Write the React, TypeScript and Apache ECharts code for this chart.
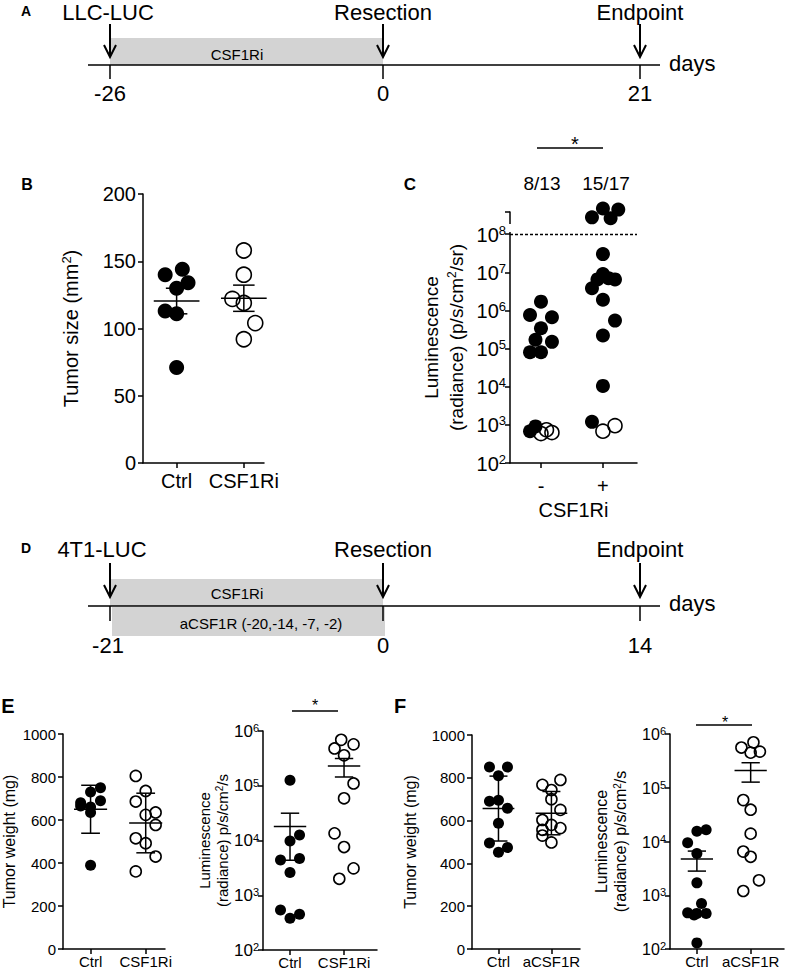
import React, { useEffect, useRef } from 'react';
import * as echarts from 'echarts';

const FONT = "'Liberation Sans', Arial, Helvetica, sans-serif";
const BLACK = '#000';

// ---------------- Timelines (A, D) ----------------
const timelineAEvents = ['LLC-LUC', 'Resection', 'Endpoint'];
const timelineADays = ['-26', '0', '21'];
const timelineATreatments = ['CSF1Ri'];
const timelineDEvents = ['4T1-LUC', 'Resection', 'Endpoint'];
const timelineDDays = ['-21', '0', '14'];
const timelineDTreatments = ['CSF1Ri', 'aCSF1R (-20,-14, -7, -2)'];
const timelineUnit = 'days';

// ---------------- Panel B: tumor size (mm2) ----------------
const bCategories = ['Ctrl', 'CSF1Ri'];
const bCtrlValues = [140, 144, 134, 130, 113, 111, 71];
const bCtrlColumns = [-1, 0.5, 1, 0, -1, 0, 0];
const bCsfValues = [158, 140, 122, 119, 104, 92];
const bCsfColumns = [0, 0, -1, 0, 1, 0];

// ---------------- Panel C: luminescence ----------------
const cCategories = ['-', '+'];
const cCounts = ['8/13', '15/17'];
const cThreshold = 1e8;
const cMinusFilled = [1.7e6, 7.6e5, 6.6e5, 3.4e5, 1.7e5, 1.5e5, 8e4, 8e4, 910, 680];
const cMinusFilledColumns = [0, -1, 1, 0, -0.5, 1, -1, 0, -0.5, -1];
const cMinusOpen = [590, 740, 630];
const cMinusOpenColumns = [0, 0.5, 1];
const cPlusFilled = [2.75e8, 4.7e8, 2.6e8, 4.4e8, 3e7, 3.8e6, 6.5e6, 9e6, 7e6, 6.5e6, 1.9e6, 5.4e5, 2.2e5, 1.05e4, 1.2e3];
const cPlusFilledColumns = [-1, 0, 0.7, 1.4, 0, -1, -0.5, 0, 0.5, 1.1, 0, 1.1, 0, 0, -1];
const cPlusOpen = [680, 950];
const cPlusOpenColumns = [0, 1.1];

// ---------------- Panel E ----------------
const eCategories = ['Ctrl', 'CSF1Ri'];
const eWeightCtrl = [750, 730, 690, 680, 665, 660, 635, 390];
const eWeightCtrlColumns = [1, 0, 1, -1, -1, 0, 0, 0];
const eWeightCsf = [805, 735, 686, 635, 624, 577, 515, 492, 430, 361];
const eWeightCsfColumns = [-1, 0, -1, 1, 0, 1, -1, 0, 1, -1];
const eLumCtrl = [1.26e5, 1.26e4, 9.8e3, 4.4e3, 4.7e3, 2.6e3, 540, 450, 380];
const eLumCtrlColumns = [0, 1, 0, -1, 1, 0, -1, 1, 0];
const eLumCsf = [6.9e5, 5.7e5, 4.8e5, 3.6e5, 1.1e5, 5.9e4, 1.35e4, 7.6e3, 3.1e3, 2.0e3];
const eLumCsfColumns = [-0.3, 1, -1, 0, 1, 0, -1, 0, 1, -0.5];

// ---------------- Panel F ----------------
const fCategories = ['Ctrl', 'aCSF1R'];
const fWeightCtrl = [850, 850, 810, 690, 695, 658, 588, 495, 474, 452];
const fWeightCtrlColumns = [-1, 1, 0, -1, 0, 1, 0, -1, 1, 0];
const fWeightAcsf = [790, 767, 743, 700, 650, 603, 580, 565, 557, 530, 498];
const fWeightAcsfColumns = [1, -1, 0, 0, 1, -1, 0, 1, -1, -1, 0];
const fLumCtrl = [1.55e4, 1.66e4, 9.5e3, 6e3, 1.7e3, 700, 470, 460, 460, 430, 130];
const fLumCtrlColumns = [0, 1, -1, 0, 0, 0.5, -1, 0, 1, -0.3, 0];
const fLumAcsf = [5.6e5, 7e5, 4.7e5, 4.5e5, 5.9e4, 3.9e4, 1.4e4, 6.5e3, 5.2e3, 1.9e3, 1.2e3];
const fLumAcsfColumns = [-1, 0.3, 1, 0, -0.8, 0, 0, -0.8, 0, 0.9, -0.8];

// ---------------- helpers ----------------
const mean = (a: number[]) => a.reduce((s, v) => s + v, 0) / a.length;
const sd = (a: number[]) => {
  const m = mean(a);
  return Math.sqrt(a.reduce((s, v) => s + (v - m) * (v - m), 0) / (a.length - 1));
};
const sem = (a: number[]) => sd(a) / Math.sqrt(a.length);

function dots(grid: number, values: number[], cols: number[], cat: number, jitter: number, log: boolean, open: boolean, size: number) {
  return {
    type: 'scatter',
    xAxisIndex: grid,
    yAxisIndex: grid,
    clip: false,
    silent: true,
    symbol: 'circle',
    symbolSize: size,
    z: 3,
    itemStyle: open
      ? { color: 'rgba(255,255,255,0)', borderColor: BLACK, borderWidth: 1.6, opacity: 1 }
      : { color: BLACK, borderWidth: 0, opacity: 1 },
    data: values.map((v, i) => [cat + cols[i] * jitter, log ? Math.log10(v) : v]),
  };
}

function summary(grid: number, groups: number[][], kind: 'sd' | 'sem', log: boolean, meanHalf: number, capHalf: number) {
  const t = (v: number) => (log ? Math.log10(v) : v);
  const data = groups.map((g, i) => {
    const m = mean(g);
    const e = kind === 'sd' ? sd(g) : sem(g);
    return [i + 1, t(m), t(m - e), t(m + e)];
  });
  return {
    type: 'custom',
    xAxisIndex: grid,
    yAxisIndex: grid,
    silent: true,
    clip: false,
    z: 4,
    data,
    renderItem: (params: any, api: any) => {
      const x = api.value(0);
      const m = api.value(1);
      const lo = api.value(2);
      const hi = api.value(3);
      const c = (p: number[]) => api.coord(p);
      const L = (a: number[], b: number[]) => ({
        type: 'line',
        shape: { x1: a[0], y1: a[1], x2: b[0], y2: b[1] },
        style: { stroke: BLACK, lineWidth: 1.5 },
      });
      return {
        type: 'group',
        children: [
          L(c([x - meanHalf, m]), c([x + meanHalf, m])),
          L(c([x, lo]), c([x, hi])),
          L(c([x - capHalf, lo]), c([x + capHalf, lo])),
          L(c([x - capHalf, hi]), c([x + capHalf, hi])),
        ],
      };
    },
  };
}

const axisLineStyle = { color: BLACK, width: 1.5 };

function xAxisFor(gridIndex: number, max: number, cats: string[], fontSize: number, margin: number, name?: string, nameGap?: number) {
  return {
    type: 'value',
    gridIndex,
    min: 0.5,
    max,
    axisLine: { show: true, onZero: false, lineStyle: axisLineStyle },
    axisTick: { show: true, customValues: [1, 2], length: 5, lineStyle: axisLineStyle },
    axisLabel: {
      show: true,
      customValues: [1, 2],
      formatter: (v: number) => cats[Math.round(v) - 1] ?? '',
      color: BLACK,
      fontFamily: FONT,
      fontSize,
      margin,
    },
    splitLine: { show: false },
    name: name ?? '',
    nameLocation: 'middle',
    nameGap: nameGap ?? 0,
    nameTextStyle: { color: BLACK, fontFamily: FONT, fontSize },
  };
}

function richSet(fontSize: number, supSize: number, supPad: number, lineHeight?: number) {
  return {
    t: { fontSize, fontFamily: FONT, color: BLACK, verticalAlign: 'bottom', lineHeight },
    b: { fontSize, fontFamily: FONT, color: BLACK, verticalAlign: 'bottom' },
    s: { fontSize: supSize, fontFamily: FONT, color: BLACK, verticalAlign: 'bottom', padding: [0, 0, supPad, 0] },
  };
}

function yLinear(gridIndex: number, max: number, interval: number, fontSize: number, name: string, nameGap: number, nameSize: number) {
  return {
    type: 'value',
    gridIndex,
    min: 0,
    max,
    interval,
    axisLine: { show: true, lineStyle: axisLineStyle },
    axisTick: { show: true, length: 5, lineStyle: axisLineStyle },
    axisLabel: { color: BLACK, fontFamily: FONT, fontSize, margin: 7, formatter: (v: number) => String(v) },
    splitLine: { show: false },
    name,
    nameLocation: 'middle',
    nameGap,
    nameTextStyle: { color: BLACK, fontFamily: FONT, fontSize: nameSize, rich: richSet(nameSize, 13, 8) },
  };
}

const expLabel = (v: number) => {
  const r = Math.round(v);
  if (Math.abs(v - r) > 1e-6) return '';
  return `{b|10}{s|${r}}`;
};

function yLog(gridIndex: number, minExp: number, maxExp: number, fontSize: number, supSize: number, supPad: number, name: string, nameGap: number, nameSize: number, nameLine: number) {
  return {
    type: 'value',
    gridIndex,
    min: minExp,
    max: maxExp,
    interval: 1,
    axisLine: { show: true, lineStyle: axisLineStyle },
    axisTick: { show: true, length: 5, lineStyle: axisLineStyle },
    axisLabel: {
      formatter: expLabel,
      margin: 4,
      color: BLACK,
      fontFamily: FONT,
      fontSize,
      rich: richSet(fontSize, supSize, supPad),
    },
    splitLine: { show: false },
    name,
    nameLocation: 'middle',
    nameGap,
    nameTextStyle: { color: BLACK, fontFamily: FONT, fontSize: nameSize, rich: richSet(nameSize, Math.round(nameSize * 0.65), Math.round(nameSize * 0.4), nameLine) },
  };
}

// ---------------- graphic helpers ----------------
const gLine = (x1: number, y1: number, x2: number, y2: number, w = 1.5, z = 10) => ({
  type: 'line',
  z,
  shape: { x1, y1, x2, y2 },
  style: { stroke: BLACK, lineWidth: w },
});
const gText = (text: string, x: number, y: number, fontSize: number, align = 'center', weight = 'normal') => ({
  type: 'text',
  x,
  y,
  z: 10,
  style: {
    text,
    fill: BLACK,
    fontSize,
    fontFamily: FONT,
    fontWeight: weight,
    align,
    textAlign: align,
    verticalAlign: 'middle',
    textVerticalAlign: 'middle',
  },
});
const gArrow = (x: number, y1: number, y2: number) => [
  gLine(x, y1, x, y2, 2),
  {
    type: 'polyline',
    z: 10,
    shape: { points: [[x - 6, y2 - 12], [x, y2], [x + 6, y2 - 12]] },
    style: { stroke: BLACK, lineWidth: 2, fill: 'none' },
  },
];

const TL_X = [110, 383, 640];

function timelineA() {
  const els: any[] = [];
  els.push({ type: 'rect', z: 5, shape: { x: TL_X[0], y: 38, width: TL_X[1] - TL_X[0], height: 27 }, style: { fill: '#d3d3d3' } });
  els.push(gText(timelineATreatments[0], 237, 54, 15));
  els.push(gLine(88, 65, 660, 65));
  TL_X.forEach((x, i) => {
    els.push(gText(timelineAEvents[i], i === 0 ? 108 : x, 12, 22));
    els.push(...gArrow(x, 24, 57));
    els.push(gLine(x, 65, x, 79));
    els.push(gText(timelineADays[i], x, 93, 22));
  });
  els.push(gText(timelineUnit, 669, 63, 22, 'left'));
  els.push(gText('A', 26, 11, 14, 'center', 'bold'));
  return els;
}

function timelineD() {
  const els: any[] = [];
  els.push({ type: 'rect', z: 5, shape: { x: TL_X[0], y: 579, width: TL_X[1] - TL_X[0], height: 27 }, style: { fill: '#d3d3d3' } });
  els.push({ type: 'rect', z: 5, shape: { x: TL_X[0] + 2, y: 607, width: TL_X[1] - TL_X[0], height: 29 }, style: { fill: '#d3d3d3' } });
  els.push(gText(timelineDTreatments[0], 237, 593, 15));
  els.push(gText(timelineDTreatments[1], 261, 623, 15));
  els.push(gLine(88, 606, 660, 606));
  TL_X.forEach((x, i) => {
    els.push(gText(timelineDEvents[i], i === 0 ? 102 : x, 549, 22));
    els.push(...gArrow(x, 563, 597));
    els.push(gLine(x, 606, x, 621));
    els.push(gText(timelineDDays[i], x - (i === 0 ? 2 : 0), 645, 22));
  });
  els.push(gText(timelineUnit, 669, 603, 22, 'left'));
  els.push(gText('D', 26, 548, 14, 'center', 'bold'));
  return els;
}

function buildOption() {
  const grids = [
    { left: 143, top: 194, width: 121, height: 269 }, // B
    { left: 510, top: 212, width: 127, height: 251 }, // C
    { left: 63, top: 734, width: 102, height: 215 }, // E weight
    { left: 263, top: 731, width: 114, height: 219 }, // E lum
    { left: 472, top: 735, width: 108, height: 214 }, // F weight
    { left: 670, top: 734, width: 114, height: 215 }, // F lum
  ];
  const cTopExp = 8.58;

  const xAxes = [
    xAxisFor(0, 2.3, bCategories, 20, 8),
    xAxisFor(1, 2.55, cCategories, 20, 13, 'CSF1Ri', 37),
    xAxisFor(2, 2.35, eCategories, 15, 5),
    xAxisFor(3, 2.61, eCategories, 15, 5),
    xAxisFor(4, 2.54, fCategories, 15, 5),
    xAxisFor(5, 2.62, fCategories, 15, 5),
  ];
  const yAxes = [
    yLinear(0, 200, 50, 20, '{t|Tumor size (mm}{s|2}{t|)}', 62, 20),
    yLog(1, 2, cTopExp, 20, 13, 8, '{t|Luminescence}\n{t|(radiance) (p/s/cm}{s|2}{t|/sr)}', 44, 19, 25),
    yLinear(2, 1000, 200, 15, '{t|Tumor weight (mg)}', 46, 16),
    yLog(3, 2, 6, 17, 11, 6, '{t|Luminescence}\n{t|(radiance) p/s/cm}{s|2}{t|/s}', 33, 15, 18),
    yLinear(4, 1000, 200, 15, '{t|Tumor weight (mg)}', 54, 16),
    yLog(5, 2, 6, 16, 11, 6, '{t|Luminescence}\n{t|(radiance) p/s/cm}{s|2}{t|/s}', 42, 16, 19),
  ];

  const series: any[] = [
    // B
    dots(0, bCtrlValues, bCtrlColumns, 1, 0.17, false, false, 15),
    dots(0, bCsfValues, bCsfColumns, 2, 0.17, false, true, 15),
    summary(0, [bCtrlValues, bCsfValues], 'sem', false, 0.34, 0.16),
    // C
    dots(1, cMinusFilled, cMinusFilledColumns, 1, 0.177, true, false, 14),
    dots(1, cMinusOpen, cMinusOpenColumns, 1, 0.177, true, true, 14),
    dots(1, cPlusFilled, cPlusFilledColumns, 2, 0.177, true, false, 14),
    dots(1, cPlusOpen, cPlusOpenColumns, 2, 0.177, true, true, 14),
    {
      type: 'line',
      xAxisIndex: 1,
      yAxisIndex: 1,
      data: [],
      silent: true,
      markLine: {
        silent: true,
        symbol: ['none', 'none'],
        label: { show: false },
        lineStyle: { color: BLACK, type: [3, 2], width: 1.3 },
        data: [{ yAxis: Math.log10(cThreshold) }],
      },
    },
    // E
    dots(2, eWeightCtrl, eWeightCtrlColumns, 1, 0.18, false, false, 11),
    dots(2, eWeightCsf, eWeightCsfColumns, 2, 0.18, false, true, 11),
    summary(2, [eWeightCtrl, eWeightCsf], 'sd', false, 0.3, 0.17),
    dots(3, eLumCtrl, eLumCtrlColumns, 1, 0.176, true, false, 11),
    dots(3, eLumCsf, eLumCsfColumns, 2, 0.176, true, true, 11),
    summary(3, [eLumCtrl, eLumCsf], 'sem', true, 0.3, 0.17),
    // F
    dots(4, fWeightCtrl, fWeightCtrlColumns, 1, 0.17, false, false, 11),
    dots(4, fWeightAcsf, fWeightAcsfColumns, 2, 0.17, false, true, 11),
    summary(4, [fWeightCtrl, fWeightAcsf], 'sd', false, 0.3, 0.17),
    dots(5, fLumCtrl, fLumCtrlColumns, 1, 0.172, true, false, 11),
    dots(5, fLumAcsf, fLumAcsfColumns, 2, 0.172, true, true, 11),
    summary(5, [fLumCtrl, fLumAcsf], 'sem', true, 0.3, 0.17),
  ];

  const graphic: any[] = [
    ...timelineA(),
    ...timelineD(),
    gText('B', 27, 184, 16, 'center', 'bold'),
    gText('C', 410, 184, 17, 'center', 'bold'),
    gText('E', 8, 706, 20, 'center', 'bold'),
    gText('F', 400, 706, 20, 'center', 'bold'),
    // C annotations
    gText(cCounts[0], 542, 183, 19),
    gText(cCounts[1], 606, 183, 19),
    gLine(537, 148, 603, 148),
    gText('*', 575, 144, 20),
    // C axis break
    { type: 'rect', z: 100, shape: { x: 506, y: 224, width: 8, height: 8 }, style: { fill: '#fff' } },
    // E significance
    gLine(292, 711, 338, 711),
    gText('*', 315, 705, 16),
    // F significance
    gLine(696, 725, 752, 725),
    gText('*', 725, 722, 16),
  ];

  return {
    animation: false,
    backgroundColor: '#fff',
    textStyle: { fontFamily: FONT, color: BLACK },
    grid: grids.map((g) => ({ ...g, containLabel: false })),
    xAxis: xAxes,
    yAxis: yAxes,
    series,
    graphic,
  };
}

export default function App() {
  const ref = useRef<HTMLDivElement>(null);
  useEffect(() => {
    if (!ref.current) return;
    const chart = echarts.init(ref.current, null, { renderer: 'svg' });
    chart.setOption(buildOption() as any);
    return () => chart.dispose();
  }, []);
  return (
    <div
      ref={ref}
      style={{ position: 'absolute', left: 0, top: 0, width: 785, height: 971, background: '#fff' }}
    />
  );
}
